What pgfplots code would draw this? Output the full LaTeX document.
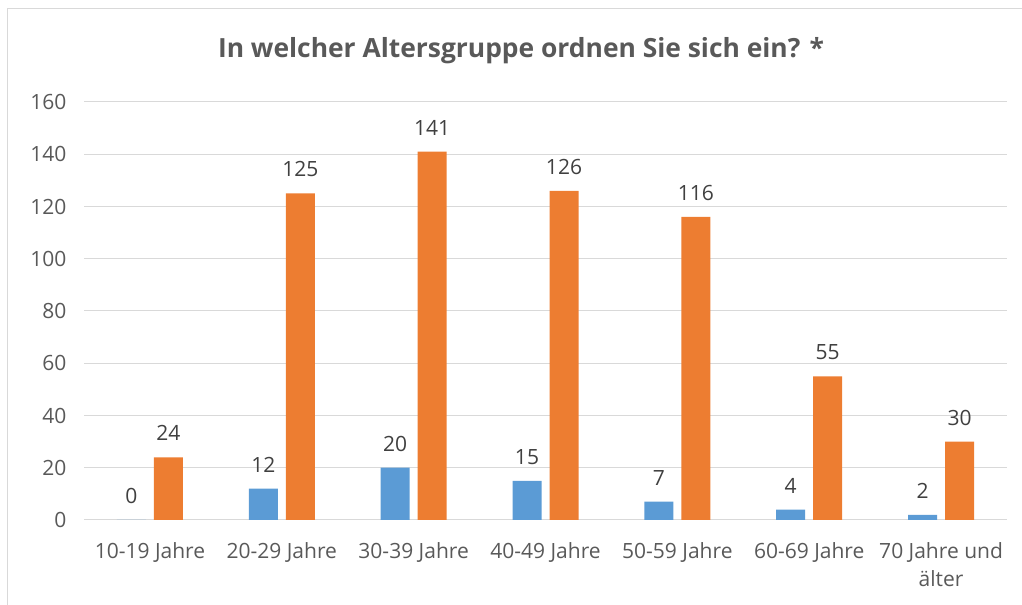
\documentclass[border=0pt]{standalone}
\usepackage{pgfplots}
\pgfplotsset{compat=1.18}
\usepackage{fontspec}
\setmainfont{Open Sans}
\definecolor{cblue}{HTML}{5B9BD5}
\definecolor{corange}{HTML}{ED7D31}
\definecolor{tgray}{HTML}{595959}
\definecolor{dgray}{HTML}{404040}
\definecolor{grid}{HTML}{D9D9D9}
\begin{document}
\begin{tikzpicture}[x=1bp,y=1bp]
\path[use as bounding box] (0,0) rectangle (1022,605);
\draw[color=grid, line width=1bp] (7,0) -- (7,596) -- (1022,596);
\node[font=\fontsize{26.4bp}{30bp}\selectfont\bfseries, text=tgray] at (521,554) {In welcher Altersgruppe ordnen Sie sich ein? *};
\begin{axis}[
  at={(84bp,85bp)}, anchor=south west,
  scale only axis, width=923bp, height=418bp,
  xmin=-0.5, xmax=6.5, ymin=0, ymax=160,
  ytick={0,20,...,160},
  xtick={0,...,6},
  xticklabels={10-19 Jahre,20-29 Jahre,30-39 Jahre,40-49 Jahre,50-59 Jahre,60-69 Jahre,{70 Jahre und\\älter}},
  axis line style={draw=none},
  major tick length=0pt,
  ymajorgrids, grid style={color=grid, line width=1bp},
  ybar, bar width=29bp,
  tick label style={font=\fontsize{21bp}{28bp}\selectfont, text=tgray},
  yticklabel style={xshift=-14bp},
  xticklabel style={align=center, yshift=-19bp},
  /pgf/number format/assume math mode=true,
  nodes near coords,
  every node near coord/.append style={font=\fontsize{21bp}{24bp}\selectfont, text=dgray, anchor=center, yshift=24bp},
]
\addplot[draw=none, fill=cblue, bar shift=-18.5bp] coordinates {(0,0) (1,12) (2,20) (3,15) (4,7) (5,4) (6,2)};
\addplot[draw=none, fill=corange, bar shift=18.5bp] coordinates {(0,24) (1,125) (2,141) (3,126) (4,116) (5,55) (6,30)};
\end{axis}
\end{tikzpicture}
\end{document}
